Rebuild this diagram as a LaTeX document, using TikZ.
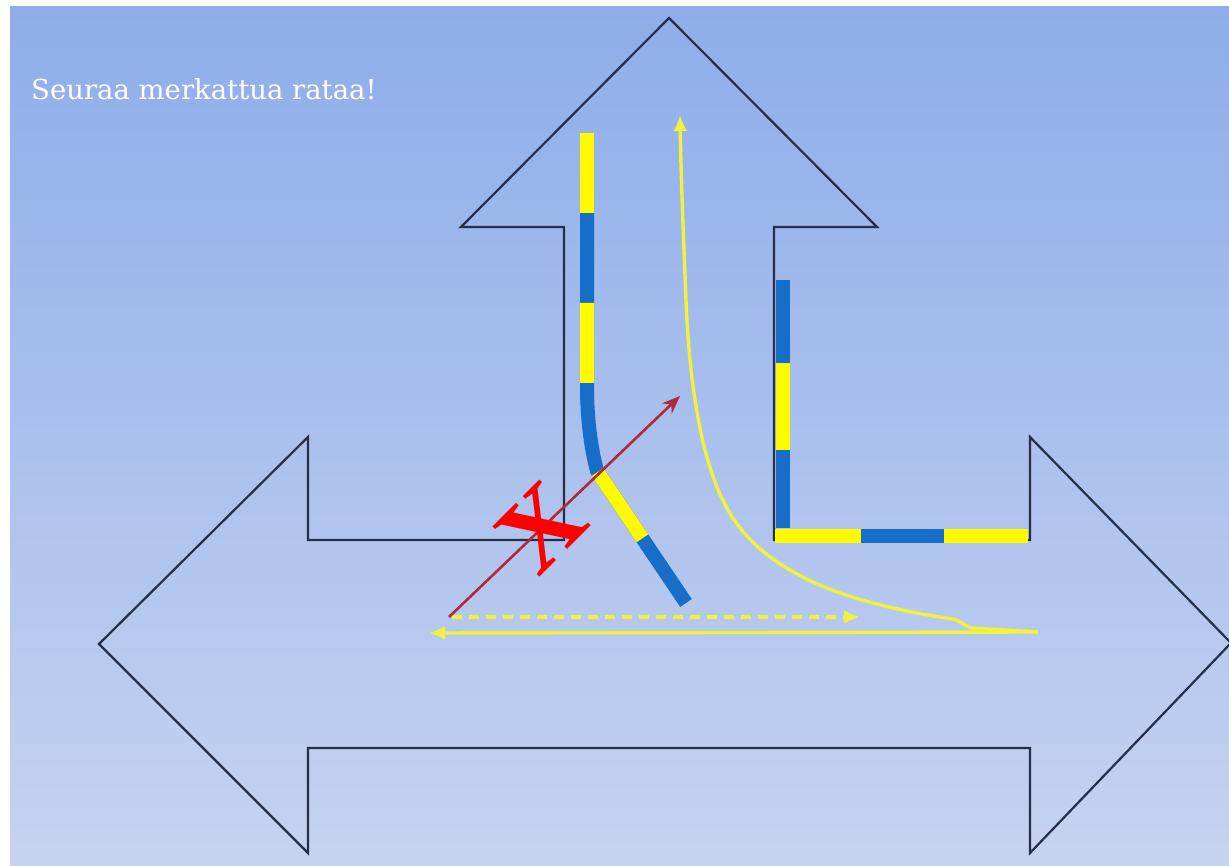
\documentclass[tikz,border=0pt]{standalone}
\usepackage{fontspec}
\setmainfont{Liberation Serif}
\newfontfamily\titlefont{DejaVu Serif}
\usetikzlibrary{arrows.meta}
\definecolor{bgtop}{RGB}{142,173,234}
\definecolor{bgbot}{RGB}{198,211,240}
\definecolor{outl}{RGB}{38,46,72}
\definecolor{trblue}{RGB}{22,110,200}
\definecolor{tryel}{RGB}{255,250,0}
\definecolor{thinyel}{RGB}{240,242,60}
\definecolor{redarr}{RGB}{178,40,60}
\tikzset{
  outline/.style={draw=outl, line width=2.2pt, line join=miter},
  trackb/.style={draw=trblue, line width=14pt, line cap=butt},
  tracky/.style={draw=tryel, line width=14pt, line cap=butt},
  thin/.style={draw=thinyel, line width=3.4pt},
  yarrow/.style={-{Latex[length=16pt,width=14pt]}},
}
\begin{document}
\begin{tikzpicture}[x=1pt,y=-1pt]
\useasboundingbox (0,0) rectangle (1229,866);
\fill[white] (0,0) rectangle (1229,866);
\shade[top color=bgtop, bottom color=bgbot] (10,7) rectangle (1229,866);
% title
\node[anchor=base west, text=white, inner sep=0pt, font=\titlefont\fontsize{27.5}{30}\selectfont] (title) at (31,100) {Seuraa merkattua rataa!};
% three-way arrow outline
\draw[outline] (669,18) -- (877,227) -- (774,227) -- (774,540) -- (1030,540) -- (1030,437)
  -- (1231,643) -- (1030,853) -- (1030,748) -- (308,748) -- (308,853) -- (99,644)
  -- (308,437) -- (308,540) -- (564,540) -- (564,227) -- (461,227) -- cycle;
% left track
\path (587,133) coordinate (lt1) (587,385) coordinate (lt2) (597,471) coordinate (lt3) (686,603) coordinate (lt4);
\draw[trackb, line join=round] (lt1) -- (lt2) .. controls (587,420) and (591,448) .. (lt3) -- (lt4);
\draw[tracky, dash pattern=on 80pt off 90pt] (lt1) -- (lt2) .. controls (587,420) and (591,448) .. (lt3) -- (lt4);
% right track
\path (783,280) coordinate (rt1) (783,528) coordinate (rt2) (775,536) coordinate (rt3) (1028,536) coordinate (rt4);
\draw[trackb] (rt1) -- (rt2);
\draw[tracky] (783,363) -- (783,450);
\draw[tracky] (rt3) -- (rt4);
\draw[trackb] (861,536) -- (944,536);
% yellow thin arrows
\path (1038,632) coordinate (ys) (680,115) coordinate (ye) (429,633) coordinate (yl)
      (452,617) coordinate (ds) (860,617) coordinate (de) (680,396) coordinate (re);
\draw[thin, yarrow] (ys) -- (972,628) .. controls (965,627) and (962,621) .. (953,619)
  .. controls (850,604) and (765,575) .. (728,510)
  .. controls (705,470) and (690,400) .. (686,300)
  .. controls (684,250) and (681,180) .. (ye);
\draw[thin, yarrow] (ys) -- (yl);
\draw[thin, dash pattern=on 10pt off 7pt, yarrow] (ds) -- (de);
% red arrow
\draw[draw=redarr, line width=2.6pt, -{Stealth[length=18pt,width=14pt]}] (449,617) -- (re);
% red X
\node[text=red, rotate=45, inner sep=0pt, font=\bfseries\fontsize{105}{105}\selectfont] (xmark) at (541,527) {X};
\end{tikzpicture}
\end{document}
